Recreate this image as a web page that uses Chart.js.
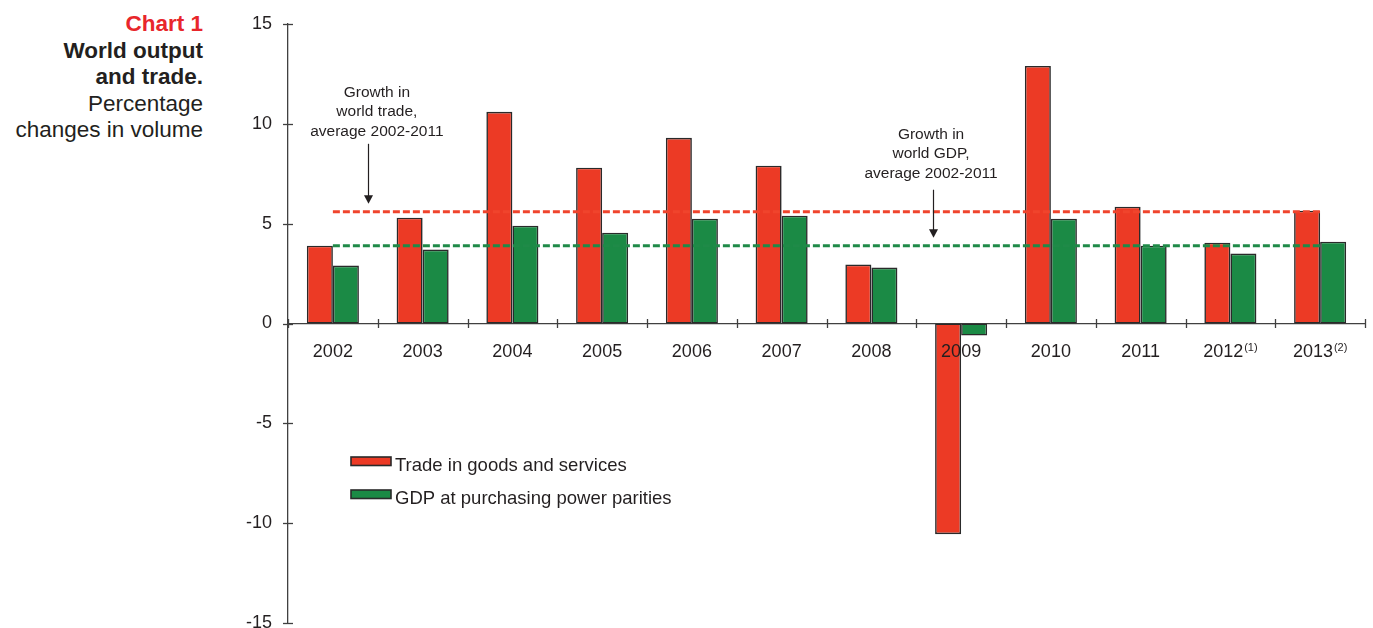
<!DOCTYPE html>
<html>
<head>
<meta charset="utf-8">
<title>World output and trade</title>
<script src="https://cdn.jsdelivr.net/npm/chart.js@4.4.1/dist/chart.umd.min.js"></script>
<style>
  html, body { margin: 0; padding: 0; background: #fff; }
  body {
    width: 1373px; height: 628px; position: relative; overflow: hidden;
    font-family: "Liberation Sans", Arial, sans-serif;
  }
  #titulo {
    position: absolute; left: 0; top: 11px; width: 203px;
    text-align: right; white-space: nowrap;
    font-size: 22.5px; line-height: 26.5px; color: #231f20;
  }
  #titulo .num { color: #e8262b; font-weight: bold; }
  #titulo .nome { font-weight: bold; }
  #grafico { position: absolute; left: 0; top: 0; }
</style>
</head>
<body>
<div id="titulo">
  <div class="num">Chart 1</div>
  <div class="nome">World output</div>
  <div class="nome">and trade.</div>
  <div>Percentage</div>
  <div>changes in volume</div>
</div>
<canvas id="grafico" width="1373" height="628"></canvas>

<script>
// variação % em volume
const anos = ['2002', '2003', '2004', '2005', '2006', '2007', '2008', '2009', '2010', '2011', '2012', '2013'];
const notasAnos = ['', '', '', '', '', '', '', '', '', '', '(1)', '(2)'];
const comercio = [3.9, 5.3, 10.6, 7.8, 9.3, 7.9, 2.95, -10.55, 12.9, 5.85, 4.05, 5.65];
const pib = [2.9, 3.7, 4.9, 4.55, 5.25, 5.4, 2.8, -0.6, 5.25, 3.9, 3.5, 4.1];
const mediaComercio = 5.6;  // média 2002-2011
const mediaPib = 3.9;

const textoMediaComercio = ['Growth in', 'world trade,', 'average 2002-2011'];
const textoMediaPib = ['Growth in', 'world GDP,', 'average 2002-2011'];

const VERMELHO = '#ec3a25';
const VERDE = '#1b8a45';
const BORDA = '#2a2a2a';
const TEXTO = '#231f20';
const EIXO = '#404040';
const FONTE = "'Liberation Sans', Arial, sans-serif";

// notas com seta, posicionadas em coordenadas dos eixos
const notas = [
    { linhas: textoMediaComercio, x: 0.49, y: 11.35, setaX: 0.39, setaDe: 9.0, setaAte: 6.0 },
    { linhas: textoMediaPib, x: 6.665, y: 9.26, setaX: 6.69, setaDe: 6.7, setaAte: 4.3 }
];

const extras = {
    id: 'extras',
    afterDraw(chart) {
        const ctx = chart.ctx;
        const sx = chart.scales.x;
        const sy = chart.scales.y;
        const zero = sy.getPixelForValue(0);
        const area = chart.chartArea;

        ctx.save();
        ctx.strokeStyle = EIXO;
        ctx.lineWidth = 1.3;

        // marcas do eixo y (cruzando a linha)
        sy.ticks.forEach(t => {
            const y = Math.round(sy.getPixelForValue(t.value)) + 0.5;
            ctx.beginPath();
            ctx.moveTo(area.left - 5, y);
            ctx.lineTo(area.left + 5, y);
            ctx.stroke();
        });

        // marcas do eixo x nas divisas das categorias
        const largura = sx.getPixelForValue(1) - sx.getPixelForValue(0);
        for (let i = 0; i <= anos.length; i++) {
            const x = Math.round(sx.getPixelForValue(i) - largura / 2) + 0.5;
            ctx.beginPath();
            ctx.moveTo(x, zero - 4.5);
            ctx.lineTo(x, zero + 4.5);
            ctx.stroke();
        }

        // rótulos dos anos com a nota sobrescrita
        ctx.fillStyle = TEXTO;
        ctx.textBaseline = 'alphabetic';
        ctx.textAlign = 'left';
        anos.forEach((ano, i) => {
            const cx = sx.getPixelForValue(i);
            ctx.font = `18px ${FONTE}`;
            const w1 = ctx.measureText(ano).width;
            ctx.font = `11px ${FONTE}`;
            const w2 = notasAnos[i] ? ctx.measureText(notasAnos[i]).width + 1 : 0;
            const x0 = cx - (w1 + w2) / 2;
            ctx.font = `18px ${FONTE}`;
            ctx.fillText(ano, x0, zero + 33.4);
            if (notasAnos[i]) {
                ctx.font = `11px ${FONTE}`;
                ctx.fillText(notasAnos[i], x0 + w1 + 1, zero + 27.4);
            }
        });

        // notas das médias e setas
        ctx.textAlign = 'center';
        ctx.font = `15.5px ${FONTE}`;
        notas.forEach(n => {
            const tx = sx.getPixelForValue(n.x);
            const ty = sy.getPixelForValue(n.y);
            n.linhas.forEach((l, i) => ctx.fillText(l, tx, ty + i * 19.6));

            const ax = Math.round(sx.getPixelForValue(n.setaX)) + 0.5;
            const y1 = sy.getPixelForValue(n.setaDe);
            const y2 = sy.getPixelForValue(n.setaAte);
            ctx.strokeStyle = TEXTO;
            ctx.lineWidth = 1.2;
            ctx.beginPath();
            ctx.moveTo(ax, y1);
            ctx.lineTo(ax, y2 - 6);
            ctx.stroke();
            ctx.beginPath();
            ctx.moveTo(ax - 4.5, y2 - 8.5);
            ctx.lineTo(ax + 4.5, y2 - 8.5);
            ctx.lineTo(ax, y2);
            ctx.closePath();
            ctx.fill();
        });

        // legenda
        ctx.textAlign = 'left';
        ctx.font = `18.5px ${FONTE}`;
        const barras = chart.data.datasets.filter(d => d.type === 'bar');
        barras.forEach((d, i) => {
            const topo = 457 + i * 33;
            const lx = area.left + 63;
            ctx.fillStyle = d.backgroundColor;
            ctx.fillRect(lx, topo, 40, 8.5);
            ctx.strokeStyle = BORDA;
            ctx.lineWidth = 1.6;
            ctx.strokeRect(lx, topo, 40, 8.5);
            ctx.fillStyle = TEXTO;
            ctx.fillText(d.label, lx + 44, topo + 13.5);
        });

        ctx.restore();
    }
};

function linhaMedia(valor, cor) {
    return {
        type: 'line',
        label: '',
        data: [{ x: anos[0], y: valor }, { x: anos[anos.length - 1], y: valor }],
        borderColor: cor,
        borderWidth: 3,
        borderDash: [7, 3],
        pointRadius: 0,
        fill: false,
        order: 0
    };
}

function barra(rotulo, valores, cor) {
    return {
        type: 'bar',
        label: rotulo,
        data: valores,
        backgroundColor: cor,
        borderColor: BORDA,
        borderWidth: 1.6,
        borderSkipped: false,
        categoryPercentage: 0.58,
        barPercentage: 1.0,
        order: 1
    };
}

document.addEventListener('DOMContentLoaded', () => {
    const ctx = document.getElementById('grafico').getContext('2d');

    new Chart(ctx, {
        type: 'bar',
        data: {
            labels: anos,
            datasets: [
                barra('Trade in goods and services', comercio, VERMELHO),
                barra('GDP at purchasing power parities', pib, VERDE),
                linhaMedia(mediaComercio, '#f0442c'),
                linhaMedia(mediaPib, '#1f8a48')
            ]
        },
        options: {
            responsive: false,
            animation: false,
            layout: { padding: { left: 0, top: 24, right: 8, bottom: 5 } },
            plugins: {
                legend: { display: false },
                tooltip: { enabled: false }
            },
            scales: {
                x: {
                    type: 'category',
                    position: { y: 0 },
                    offset: true,
                    grid: { display: false, drawTicks: false },
                    ticks: { display: false },
                    border: { display: true, color: EIXO, width: 1.3 },
                    afterFit: (s) => { s.height = 0; s.paddingLeft = 0; s.paddingRight = 0; }
                },
                y: {
                    min: -15,
                    max: 15,
                    grid: { display: false, drawTicks: false },
                    border: { display: true, color: EIXO, width: 1.3 },
                    ticks: {
                        stepSize: 5,
                        padding: 16,
                        color: TEXTO,
                        font: { family: FONTE, size: 18 }
                    },
                    afterFit: (s) => { s.width = 288; s.paddingTop = 0; s.paddingBottom = 0; }
                }
            }
        },
        plugins: [extras]
    });
});
</script>
</body>
</html>
